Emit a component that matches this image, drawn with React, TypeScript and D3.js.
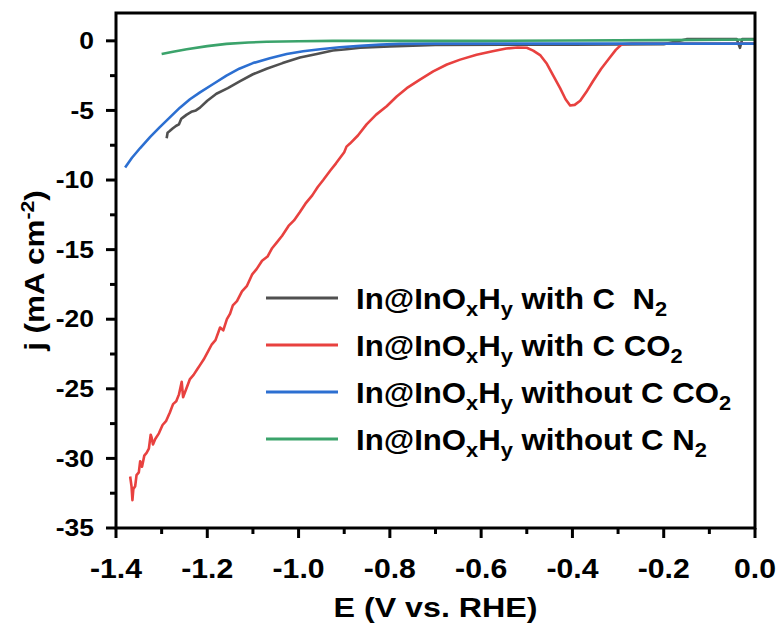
import React from "react";
import * as d3 from "d3";

const xTicks = [-1.4, -1.2, -1.0, -0.8, -0.6, -0.4, -0.2, 0.0];
const yTicks = [0, -5, -10, -15, -20, -25, -30, -35];

const blackE = [-1.289,-1.287,-1.283,-1.276,-1.268,-1.262,-1.257,-1.253,-1.245,-1.235,-1.225,-1.216,-1.2,-1.18,-1.155,-1.128,-1.1,-1.07,-1.035,-0.997,-0.96,-0.925,-0.895,-0.865,-0.8,-0.7,-0.55,-0.4,-0.2,-0.15,-0.1,-0.04,-0.033,-0.028,-0.01,0];
const blackJ = [-7.0,-6.6,-6.5,-6.3,-6.1,-6.0,-5.6,-5.5,-5.3,-5.1,-5.0,-4.8,-4.3,-3.8,-3.4,-2.9,-2.4,-2.0,-1.6,-1.2,-0.95,-0.7,-0.6,-0.5,-0.4,-0.3,-0.28,-0.27,-0.25,0.12,0.12,0.12,-0.5,0.12,0.12,0.12];

const redE = [-1.369,-1.366,-1.364,-1.362,-1.358,-1.355,-1.35,-1.347,-1.343,-1.338,-1.333,-1.328,-1.324,-1.322,-1.319,-1.314,-1.306,-1.298,-1.29,-1.282,-1.275,-1.268,-1.262,-1.256,-1.253,-1.246,-1.238,-1.23,-1.222,-1.216,-1.208,-1.198,-1.19,-1.182,-1.172,-1.165,-1.157,-1.15,-1.144,-1.135,-1.124,-1.113,-1.102,-1.092,-1.08,-1.068,-1.058,-1.048,-1.036,-1.022,-1.01,-0.997,-0.985,-0.97,-0.958,-0.946,-0.93,-0.918,-0.909,-0.9,-0.895,-0.888,-0.87,-0.851,-0.83,-0.807,-0.785,-0.763,-0.735,-0.705,-0.675,-0.646,-0.61,-0.575,-0.545,-0.52,-0.5,-0.486,-0.47,-0.456,-0.442,-0.427,-0.415,-0.405,-0.395,-0.383,-0.37,-0.355,-0.337,-0.318,-0.305,-0.292,-0.27,-0.15,0];
const redJ = [-31.3,-32.0,-33.0,-32.2,-32.0,-31.2,-31.0,-30.2,-30.6,-29.8,-29.6,-29.3,-28.3,-28.5,-29.0,-28.6,-28.2,-27.6,-27.3,-26.7,-26.1,-25.9,-25.4,-24.5,-25.6,-25.0,-24.3,-24.0,-23.6,-23.3,-22.9,-22.3,-21.8,-21.5,-20.6,-20.8,-20.0,-19.6,-19.0,-18.7,-18.0,-17.6,-16.8,-16.4,-15.8,-15.5,-14.9,-14.5,-14.0,-13.3,-12.9,-12.3,-11.7,-11.1,-10.5,-10.0,-9.3,-8.8,-8.4,-8.0,-7.6,-7.4,-6.8,-6.0,-5.3,-4.7,-4.0,-3.4,-2.8,-2.2,-1.7,-1.35,-1.0,-0.75,-0.55,-0.48,-0.5,-0.7,-1.05,-1.65,-2.5,-3.4,-4.2,-4.65,-4.6,-4.3,-3.7,-2.9,-2.0,-1.2,-0.65,-0.25,-0.2,-0.2,-0.2];

const blueE = [-1.38,-1.365,-1.347,-1.325,-1.304,-1.282,-1.26,-1.238,-1.216,-1.187,-1.158,-1.13,-1.1,-1.063,-1.026,-0.99,-0.953,-0.91,-0.865,-0.82,-0.778,-0.7,-0.6,-0.4,-0.2,0];
const blueJ = [-9.1,-8.4,-7.7,-6.9,-6.2,-5.5,-4.8,-4.2,-3.7,-3.1,-2.5,-2.0,-1.6,-1.25,-0.95,-0.75,-0.6,-0.46,-0.36,-0.27,-0.22,-0.2,-0.2,-0.2,-0.2,-0.2];

const greenE = [-1.3,-1.275,-1.245,-1.2,-1.158,-1.11,-1.07,-1.0,-0.925,-0.8,-0.6,-0.4,-0.2,0];
const greenJ = [-0.95,-0.78,-0.6,-0.38,-0.22,-0.12,-0.07,-0.03,0,0,0,0.02,0.05,0.1];

const seriesNames = ["with C  N", "with C CO", "without C CO", "without C N"];
const seriesColors = ["#505050", "#e8413f", "#2c6fd1", "#3ba36b"];

const W = 782, H = 630;
const M = { left: 116, right: 755, top: 13, bottom: 528 };
const FONT = "'Liberation Sans', Arial, sans-serif";

export default function App() {
  const x = d3.scaleLinear().domain([-1.4, 0]).range([M.left, M.right]);
  const y = d3.scaleLinear().domain([-35, 2]).range([M.bottom, M.top]);
  const line = d3.line<[number, number]>().x(d => x(d[0])).y(d => y(d[1]));
  const series = [
    { E: blackE, J: blackJ },
    { E: redE, J: redJ },
    { E: blueE, J: blueJ },
    { E: greenE, J: greenJ },
  ];
  const xMinor = d3.range(-1.4, 0.001, 0.1);
  const yMinor = d3.range(-35, 0.001, 2.5);
  const legendY = [298, 345, 392, 439];

  return (
    <svg width={W} height={H} style={{ display: "block", position: "absolute", left: 0, top: 0, background: "#fff" }} fontFamily={FONT}>
      <defs>
        <clipPath id="plotclip">
          <rect x={M.left} y={M.top} width={M.right - M.left} height={M.bottom - M.top} />
        </clipPath>
      </defs>
      <rect x={0} y={0} width={W} height={H} fill="#fff" />
      <g clipPath="url(#plotclip)">
        {series.map((s, i) => (
          <path key={i} d={line(s.E.map((e, k) => [e, s.J[k]] as [number, number])) || ""} fill="none" stroke={seriesColors[i]} strokeWidth={2.6} strokeLinejoin="round" />
        ))}
      </g>
      <rect x={M.left} y={M.top} width={M.right - M.left} height={M.bottom - M.top} fill="none" stroke="#000" strokeWidth={3} />
      {xMinor.map((v, i) => (
        <line key={"xm" + i} x1={x(v)} x2={x(v)} y1={M.bottom} y2={M.bottom + (i % 2 === 0 ? 10 : 6)} stroke="#000" strokeWidth={3} />
      ))}
      {yMinor.map((v, i) => (
        <line key={"ym" + i} x1={M.left} x2={M.left - (i % 2 === 0 ? 10 : 6)} y1={y(v)} y2={y(v)} stroke="#000" strokeWidth={3} />
      ))}
      {xTicks.map((v, i) => (
        <text key={"xt" + i} transform={`translate(${x(v)}, 578) scale(1.12, 1)`} textAnchor="middle" fontSize={27} fontWeight="bold">{v.toFixed(1)}</text>
      ))}
      {yTicks.map((v, i) => (
        <text key={"yt" + i} transform={`translate(94, ${y(v) + 8.2}) scale(1.15, 1)`} textAnchor="end" fontSize={23} fontWeight="bold">{String(v)}</text>
      ))}
      <text transform={`translate(${(M.left + M.right) / 2}, 617) scale(1.15, 1)`} textAnchor="middle" fontSize={28} fontWeight="bold">E (V vs. RHE)</text>
      <text transform={`translate(44, ${(M.top + M.bottom) / 2}) rotate(-90) scale(1.12, 1)`} textAnchor="middle" fontSize={28} fontWeight="bold">
        j (mA cm<tspan dy={-10} fontSize={19}>-2</tspan><tspan dy={10}>)</tspan>
      </text>
      {seriesNames.map((n, i) => (
        <g key={"lg" + i}>
          <line x1={266} x2={338} y1={legendY[i]} y2={legendY[i]} stroke={seriesColors[i]} strokeWidth={3} />
          <text transform={`translate(356, ${legendY[i] + 10.5}) scale(1.04, 1)`} fontSize={30} fontWeight="bold" style={{ whiteSpace: "pre" }}>
            In@InO<tspan dy={7} fontSize={21}>x</tspan><tspan dy={-7}>H</tspan><tspan dy={7} fontSize={21}>y</tspan><tspan dy={-7}>{" " + n}</tspan><tspan dy={7} fontSize={21}>2</tspan>
          </text>
        </g>
      ))}
    </svg>
  );
}
